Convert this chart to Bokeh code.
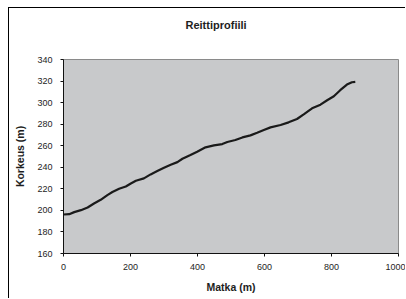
from bokeh.plotting import figure
from bokeh.models import Range1d, FixedTicker, Title, LinearAxis
from bokeh.embed import file_html
from bokeh.resources import INLINE

# Data
distance_m = [0, 17, 32, 52, 72, 91, 111, 131, 146, 166, 186, 201, 216, 240, 260,
              280, 300, 320, 340, 355, 379, 399, 424, 449, 474, 489, 513, 534, 558,
              578, 598, 618, 648, 672, 697, 717, 742, 767, 787, 807, 826, 846, 861, 871]
elevation_m = [196.2, 196.5, 198.4, 200.2, 202.7, 206.4, 209.8, 214.2, 217.0, 220.0,
               222.2, 225.0, 227.5, 229.7, 233.4, 236.5, 239.6, 242.4, 244.8, 247.9,
               251.3, 254.4, 258.5, 260.3, 261.5, 263.4, 265.3, 267.7, 269.6, 272.0,
               274.6, 277.0, 279.2, 281.7, 284.8, 289.1, 294.7, 298.1, 302.2, 305.9,
               311.5, 316.7, 318.9, 319.2]
x_ticks = [0, 200, 400, 600, 800, 1000]
y_ticks = [160, 180, 200, 220, 240, 260, 280, 300, 320, 340]

title_text = "Reittiprofiili"
x_label = "Matka (m)"
y_label = "Korkeus (m)"

FONT = "Liberation Sans"
TXT = "#1e1e1e"

p = figure(width=397, height=291, output_backend="svg", toolbar_location=None,
           x_range=Range1d(0, 1000), y_range=Range1d(160, 340),
           min_border_left=54, min_border_right=8, min_border_top=51,
           min_border_bottom=46)
p.title = None
xa = p.below[0]
ya = p.left[0]

# invisible spacer between plot area and title (one hidden tick gives it height)
spacer = LinearAxis(ticker=FixedTicker(ticks=[500]), axis_line_color=None,
                    major_tick_line_color=None, minor_tick_line_color=None,
                    major_tick_out=29, major_tick_in=0, minor_tick_out=0,
                    major_label_overrides={500: ""}, major_label_standoff=0,
                    major_label_text_font_size="0px")
p.add_layout(spacer, "above")

t = Title(text=title_text, align="left", offset=122, standoff=0,
          text_font=FONT, text_font_size="11px", text_font_style="bold",
          text_color=TXT)
p.add_layout(t, "above")

p.background_fill_color = "#c8c9cb"
p.border_fill_color = "white"
p.outline_line_color = "#8a8a8a"
p.outline_line_width = 1
p.xgrid.visible = False
p.ygrid.visible = False
p.styles = {"margin-left": "8px", "margin-top": "7px",
            "border-left": "1px solid black", "border-top": "1px solid black"}

for ax in (xa, ya):
    ax.axis_line_color = "#111111"
    ax.major_tick_line_color = "#111111"
    ax.major_tick_out = 3
    ax.major_tick_in = 0
    ax.minor_tick_line_color = None
    ax.major_label_text_font = FONT
    ax.major_label_text_font_size = "9px"
    ax.major_label_text_color = TXT
    ax.axis_label_text_font = FONT
    ax.axis_label_text_font_style = "bold"
    ax.axis_label_text_font_size = "10.5px"
    ax.axis_label_text_color = TXT

xa.ticker = FixedTicker(ticks=x_ticks)
ya.ticker = FixedTicker(ticks=y_ticks)
xa.axis_label = x_label
ya.axis_label = y_label
xa.major_label_standoff = 7
xa.axis_label_standoff = 8
ya.major_label_standoff = 8
ya.axis_label_standoff = 8

p.line(distance_m, elevation_m, line_color="#1a1a1a", line_width=2.2)

open("out.html", "w").write(file_html(p, INLINE))
